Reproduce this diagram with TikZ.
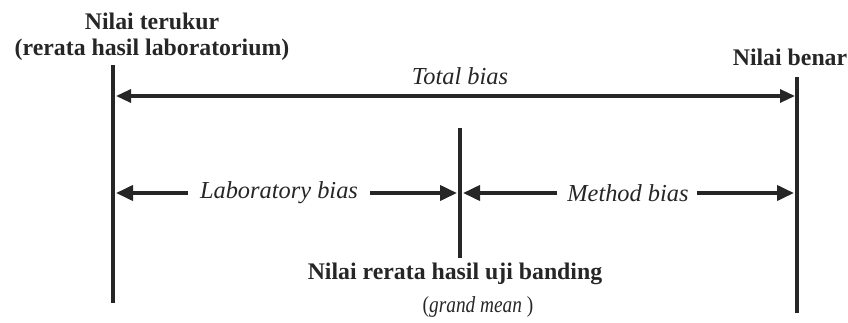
\documentclass[tikz,border=0pt]{standalone}
\usepackage{fontspec}
\setmainfont{Liberation Serif}
\usetikzlibrary{arrows.meta}
\definecolor{ink}{HTML}{262626}
\tikzset{
  bar/.style={draw=ink, line width=3.5pt},
  dimline/.style={draw=ink, line width=3.2pt, {Triangle[length=15pt,width=13pt]}-{Triangle[length=15pt,width=13pt]}},
  halfarrow/.style={draw=ink, line width=3.8pt, -{Triangle[length=17pt,width=15pt]}},
  boldlabel/.style={font=\fontsize{23.8}{26}\selectfont\bfseries, text=ink, inner sep=0pt, align=center},
  itlabel/.style={font=\fontsize{24.4}{26}\selectfont\itshape, text=ink, inner sep=0pt},
}
\begin{document}
\begin{tikzpicture}[x=1pt,y=-1pt]
\useasboundingbox (0,0) rectangle (848,322);
% vertical bars
\coordinate (Ltop) at (113,65);
\coordinate (Lbot) at (113,303);
\coordinate (Mtop) at (460,128);
\coordinate (Mbot) at (460,258);
\coordinate (Rtop) at (797,77);
\coordinate (Rbot) at (797,313);
\draw[bar] (Ltop) -- (Lbot);
\draw[bar] (Mtop) -- (Mbot);
\draw[bar] (Rtop) -- (Rbot);
% labels
\node[boldlabel] (terukur) at (152,37) {Nilai terukur\\(rerata hasil laboratorium)};
\node[boldlabel] (benar) at (790,57) {Nilai benar};
\node[itlabel] (total) at (460,76) {Total bias};
\node[itlabel] (lab) at (279,193) {Laboratory bias};
\node[itlabel] (method) at (628,193) {Method bias};
\node[boldlabel] (grand) at (455,274) {Nilai rerata hasil uji banding};
\node[font=\fontsize{23}{26}\selectfont, text=ink, inner sep=0pt, xscale=0.84] (gm) at (478,307) {(\textit{grand mean} )};
% arrow ends
\coordinate (tL) at (116,96);
\coordinate (tR) at (795,96);
\coordinate (lL) at (116,193);
\coordinate (lLt) at (188,193);
\coordinate (lRt) at (370,193);
\coordinate (lR) at (457,193);
\coordinate (mL) at (463,193);
\coordinate (mLt) at (557,193);
\coordinate (mRt) at (697,193);
\coordinate (mR) at (794,193);
\draw[dimline] (tL) -- (tR);
\draw[halfarrow] (lLt) -- (lL);
\draw[halfarrow] (lRt) -- (lR);
\draw[halfarrow] (mLt) -- (mL);
\draw[halfarrow] (mRt) -- (mR);
\end{tikzpicture}
\end{document}
